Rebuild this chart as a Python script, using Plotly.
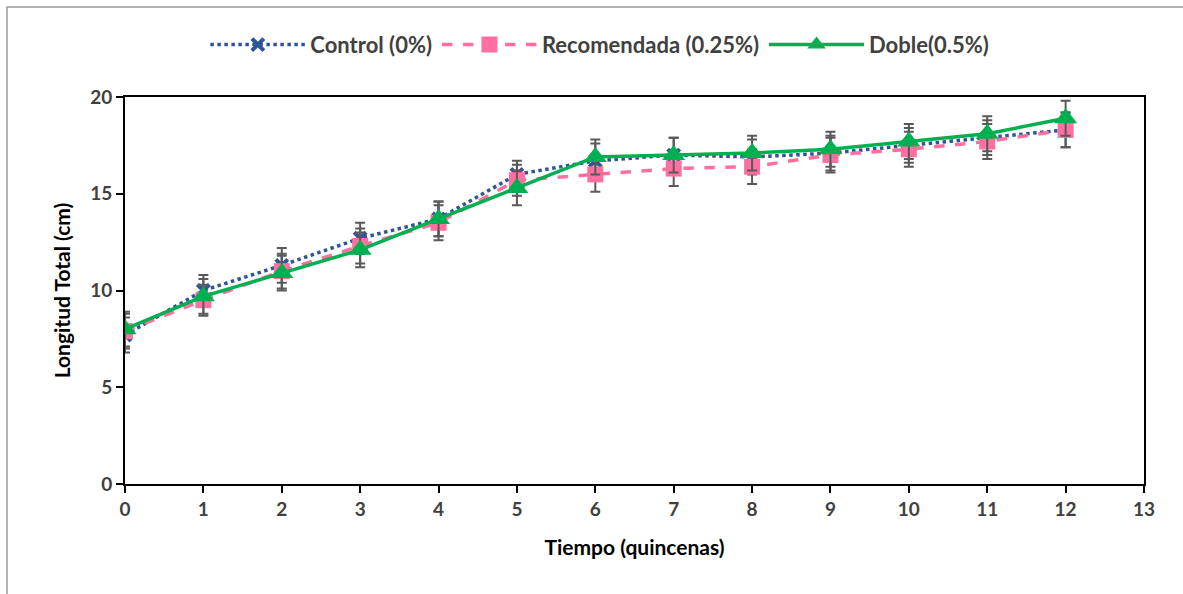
import plotly.graph_objects as go

tiempo = [0, 1, 2, 3, 4, 5, 6, 7, 8, 9, 10, 11, 12]
control = [7.7, 10.0, 11.3, 12.7, 13.7, 16.0, 16.7, 17.0, 16.9, 17.1, 17.5, 17.9, 18.3]
control_err = [0.9, 0.8, 0.9, 0.8, 0.9, 0.7, 0.9, 0.9, 0.9, 0.9, 0.9, 0.9, 0.9]
recomendada = [7.9, 9.5, 11.0, 12.3, 13.5, 15.7, 16.0, 16.3, 16.4, 17.0, 17.3, 17.7, 18.3]
recomendada_err = [0.9, 0.8, 0.9, 0.9, 0.9, 0.8, 0.9, 0.9, 0.9, 0.9, 0.9, 0.9, 0.9]
doble = [8.0, 9.7, 10.9, 12.1, 13.7, 15.3, 16.9, 17.0, 17.1, 17.3, 17.7, 18.1, 18.9]
doble_err = [0.9, 0.9, 0.9, 0.9, 0.9, 0.9, 0.9, 0.9, 0.9, 0.9, 0.9, 0.9, 0.9]

names = ["Control (0%)", "Recomendada (0.25%)", "Doble(0.5%)"]
x_ticks = list(range(0, 14))
y_ticks = [0, 5, 10, 15, 20]

err_style = dict(type="data", color="#595959", thickness=2, width=5)

fig = go.Figure()
fig.add_trace(go.Scatter(
    x=tiempo, y=control, name=names[0], mode="lines+markers",
    line=dict(color="#2F5597", width=3.5, dash="dot"),
    marker=dict(symbol="x-thin", size=12, color="#2F5597", line=dict(color="#2F5597", width=4)),
    error_y=dict(array=control_err, **err_style),
))
fig.add_trace(go.Scatter(
    x=tiempo, y=recomendada, name=names[1], mode="lines+markers",
    line=dict(color="#FF6F9F", width=3.5, dash="dash"),
    marker=dict(symbol="square", size=16, color="#FF6F9F"),
    error_y=dict(array=recomendada_err, **err_style),
))
fig.add_trace(go.Scatter(
    x=tiempo, y=doble, name=names[2], mode="lines+markers",
    line=dict(color="#00B050", width=3.5),
    marker=dict(symbol="triangle-up", size=20, color="#00B050"),
    error_y=dict(array=doble_err, **err_style),
))

fig.update_layout(
    width=1183, height=594,
    margin=dict(l=125, r=39, t=97, b=110, autoexpand=False),
    paper_bgcolor="white", plot_bgcolor="white",
    font=dict(family="Lato", color="#404040"),
    showlegend=True,
    legend=dict(orientation="h", x=0.466, xanchor="center", y=1.135, yanchor="middle",
                bgcolor="rgba(0,0,0,0)",
                font=dict(size=22, color="#404040", family="Lato", weight="bold"),
                itemwidth=95, tracegroupgap=0),
    shapes=[dict(type="rect", xref="paper", yref="paper",
                 x0=(7 - 125) / 1019, x1=1.2, y0=-0.4, y1=(484 - 7) / 387,
                 line=dict(color="#9a9a9a", width=1.5), layer="below")],
)
fig.update_xaxes(
    range=[0, 13], tickvals=x_ticks, ticktext=[str(v) for v in x_ticks],
    showgrid=False, zeroline=False,
    showline=True, linecolor="black", linewidth=2, mirror=True,
    ticks="outside", ticklen=7, tickwidth=1.5, tickcolor="black",
    tickfont=dict(size=19, color="#404040", family="Lato", weight="bold"),
    title=dict(text="Tiempo (quincenas)", font=dict(size=21, color="black", family="Lato", weight="bold"), standoff=22),
)
fig.update_yaxes(
    range=[0, 20], tickvals=y_ticks, ticktext=[str(v) for v in y_ticks],
    showgrid=False, zeroline=False,
    showline=True, linecolor="black", linewidth=2, mirror=True,
    ticks="outside", ticklen=7, tickwidth=1.5, tickcolor="black",
    tickfont=dict(size=19, color="#404040", family="Lato", weight="bold"),
    title=dict(text="Longitud Total (cm)", font=dict(size=21, color="black", family="Lato", weight="bold"), standoff=14),
)

fig.write_html("out.html")
